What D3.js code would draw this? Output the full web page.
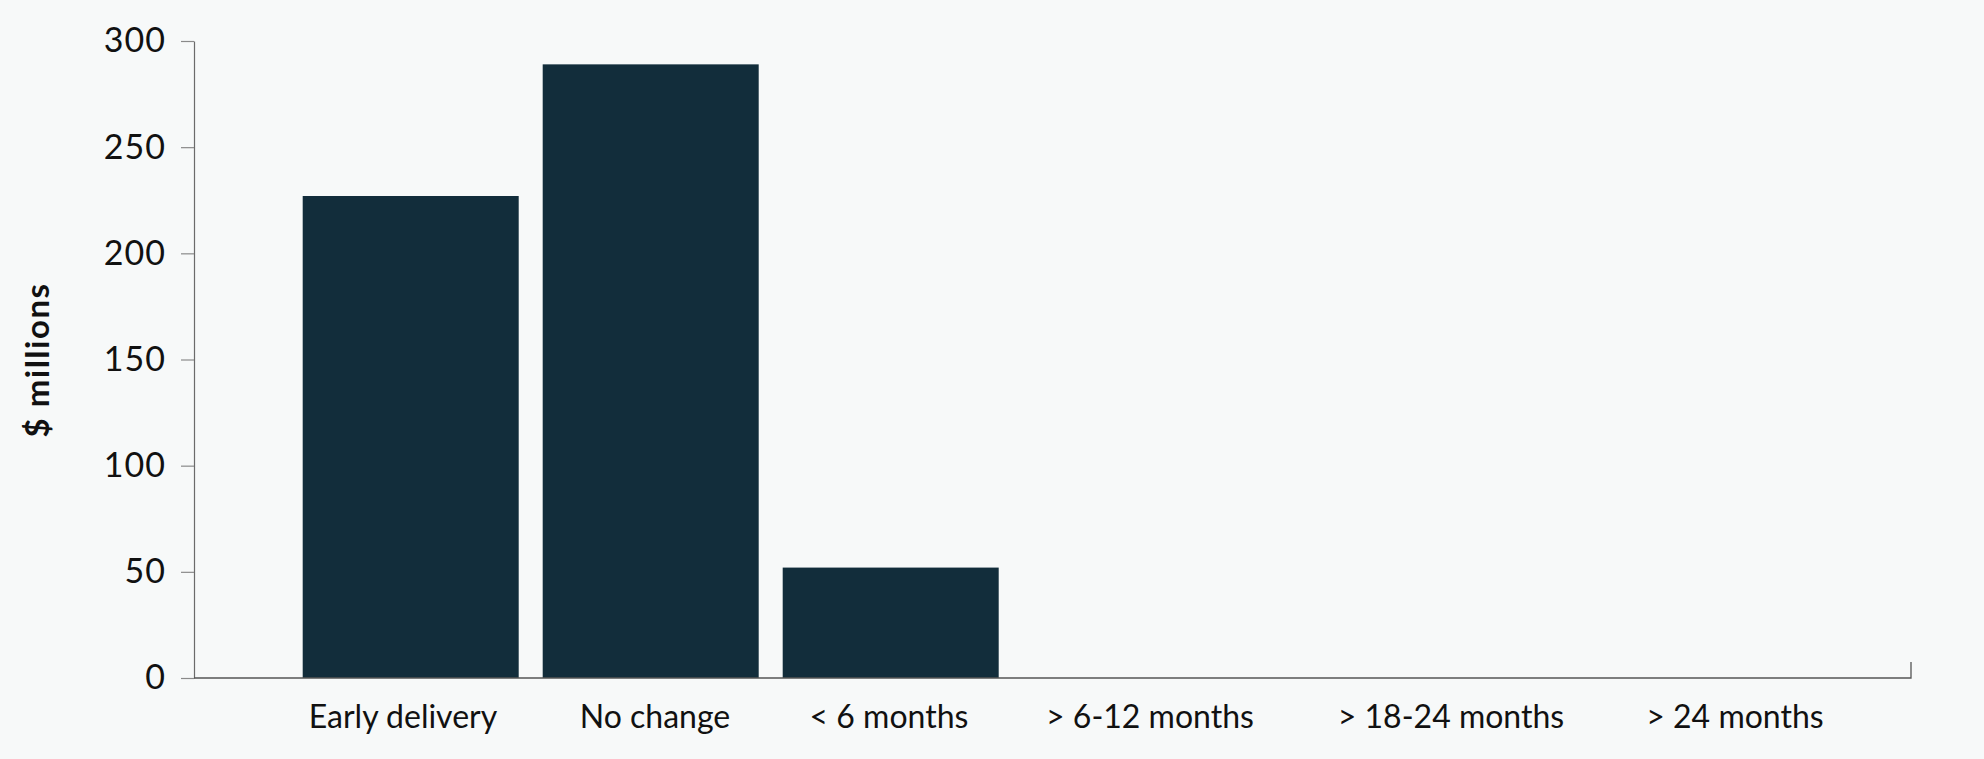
<!DOCTYPE html>
<html>
<head>
<meta charset="utf-8">
<script src="https://cdn.jsdelivr.net/npm/d3@7"></script>
<style>
  html, body { margin: 0; padding: 0; background: #f7f9f9; }
  svg { display: block; }
  text { font-family: Lato, "Open Sans", sans-serif; fill: #111; }
</style>
</head>
<body>
<svg id="chart" width="1984" height="759"></svg>
<script>
const categories = ["Early delivery", "No change", "< 6 months", "> 6-12 months", "> 18-24 months", "> 24 months"];
const values = [227, 289, 52, 0, 0, 0];
const yTicks = [0, 50, 100, 150, 200, 250, 300];
const yTitle = "$ millions";

const W = 1984, H = 759;
const axisLeft = 194, axisRight = 1911, y0 = 678, y1 = 41;
const svg = d3.select("#chart");

const x = d3.scaleBand()
  .domain(categories)
  .range([290.7, 290.7 + 6 * 240])
  .paddingInner(0.1)
  .paddingOuter(0.05);

// tick-label layout: centres measured in the reference (labels of empty bars spread out)
const labelX = d3.scaleOrdinal()
  .domain(categories)
  .range([403, 655, 889, 1150, 1451, 1735]);

const y = d3.scaleLinear().domain([0, 300]).range([y0, y1]);

// bars
svg.append("g").selectAll("rect")
  .data(categories.map((c, i) => ({ c, v: values[i] })).filter(d => d.v > 0))
  .join("rect")
  .attr("x", d => x(d.c))
  .attr("y", d => y(d.v))
  .attr("width", x.bandwidth())
  .attr("height", d => y(0) - y(d.v))
  .attr("fill", "#122d3b");

// y axis
const yAxis = svg.append("g")
  .attr("transform", `translate(${axisLeft},0)`)
  .call(d3.axisLeft(y).tickValues(yTicks).tickSize(13).tickPadding(15).tickSizeOuter(0));
yAxis.select(".domain").attr("stroke", "#6b6b6b").attr("stroke-width", 1.2);
yAxis.selectAll(".tick line").attr("stroke", "#8a8a8a").attr("stroke-width", 1.2);
yAxis.selectAll(".tick text")
  .attr("font-size", 34)
  .attr("font-family", "Lato, sans-serif")
  .attr("letter-spacing", 1)
  .attr("fill", "#111");

// x axis
const xAxisScale = d3.scaleLinear().domain([0, 1]).range([axisLeft, axisRight]);
const xAxis = svg.append("g").attr("transform", `translate(0,${y0})`);
xAxis.append("path")
  .attr("d", `M${xAxisScale(0)},0H${xAxisScale(1)}V-16`)
  .attr("fill", "none")
  .attr("stroke", "#555")
  .attr("stroke-width", 1.3);
xAxis.selectAll("text.xl")
  .data(categories)
  .join("text")
  .attr("class", "xl")
  .attr("x", d => labelX(d))
  .attr("y", 50)
  .attr("text-anchor", "middle")
  .attr("font-size", 32)
  .text(d => d);

// y title
svg.append("text")
  .attr("transform", `translate(49,360) rotate(-90)`)
  .attr("text-anchor", "middle")
  .attr("font-size", 33)
  .attr("font-weight", "bold")
  .attr("letter-spacing", 1.5)
  .text(yTitle);
</script>
</body>
</html>
